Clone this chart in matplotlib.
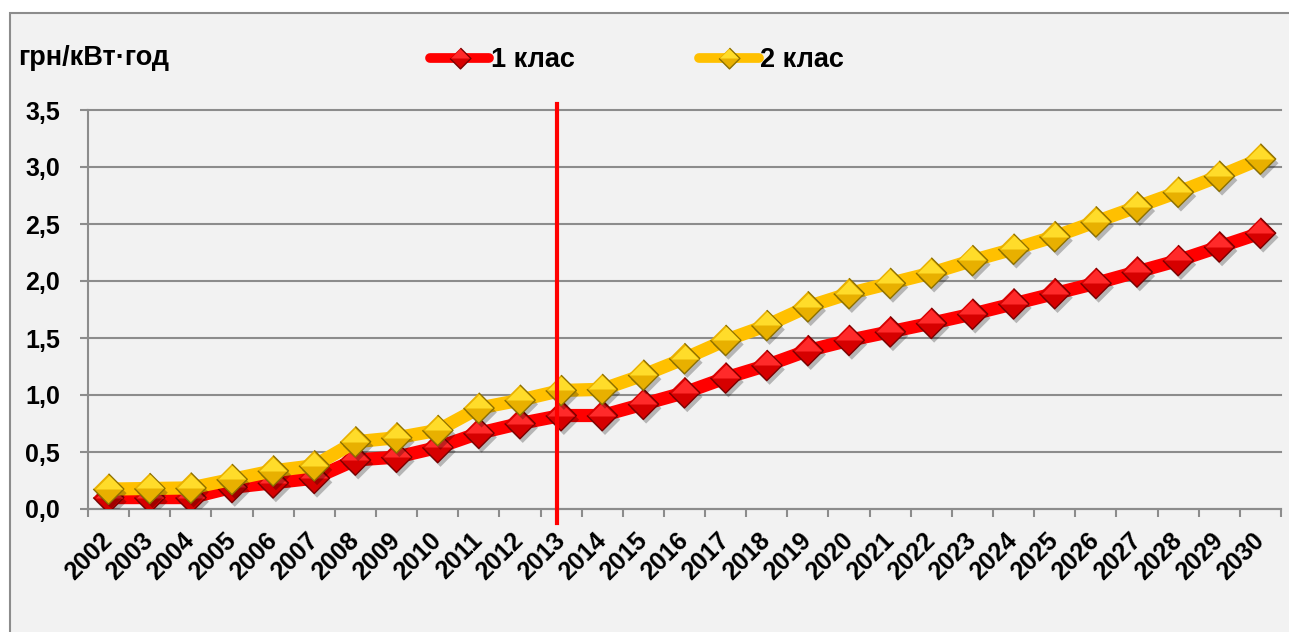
import numpy as np
import matplotlib
matplotlib.use("Agg")
import matplotlib.pyplot as plt
import matplotlib.patheffects as pe
import matplotlib.transforms as mtransforms
from matplotlib.lines import Line2D
from matplotlib.patches import Rectangle

# ---- data -------------------------------------------------------------
years = list(range(2002, 2031))
class1 = [0.10, 0.10, 0.10, 0.19, 0.23, 0.27, 0.43, 0.455, 0.54, 0.665,
          0.75, 0.82, 0.82, 0.92, 1.02, 1.15, 1.26, 1.39, 1.48, 1.555,
          1.63, 1.71, 1.80, 1.89, 1.98, 2.08, 2.18, 2.30, 2.42]
class2 = [0.175, 0.18, 0.185, 0.26, 0.335, 0.38, 0.59, 0.625, 0.69, 0.885,
          0.955, 1.04, 1.05, 1.175, 1.32, 1.48, 1.61, 1.775, 1.89, 1.98,
          2.07, 2.18, 2.28, 2.39, 2.52, 2.65, 2.78, 2.92, 3.07]
series_names = ["1 клас", "2 клас"]
y_ticks = [0.0, 0.5, 1.0, 1.5, 2.0, 2.5, 3.0, 3.5]
unit_label = "грн/кВт·год"
divider_year = 2013

# ---- style ------------------------------------------------------------
plt.rcParams['font.family'] = ['Liberation Sans', 'DejaVu Sans']
plt.rcParams['font.weight'] = 'bold'

GRID = '#8c8c8c'
styles = [
    dict(line='#ff0000', base='#d60000', top='#ff2a2a', edge='#7a0000'),
    dict(line='#ffc000', base='#e8b000', top='#ffdc2a', edge='#8c7000'),
]
DIAMOND = [(0, 1), (1, 0), (0, -1), (-1, 0)]
TOP_FACET = [(-1, 0), (0, 1), (1, 0)]

W, H = 1289, 632
fig = plt.figure(figsize=(W / 100, H / 100), dpi=100, facecolor='white')

# grey chart-area frame
fig.add_artist(Rectangle((10 / W, -0.05), 1.2, 0.05 + 1 - 13 / H,
                         transform=fig.transFigure, facecolor='#f2f2f2',
                         edgecolor=GRID, lw=1.5, zorder=0))

ax = fig.add_axes([88 / W, 1 - 509 / H, (1281 - 88) / W, (509 - 110) / H])
ax.patch.set_visible(False)

x = np.arange(len(years))
MS = 22

for vals, st in zip([class1, class2], styles):
    ax.plot(x, vals, color=st['line'], lw=9.5, solid_capstyle='round',
            solid_joinstyle='round', zorder=3)
    ax.plot(x, vals, ls='none', marker=DIAMOND, ms=MS, mfc=st['base'],
            mec=st['edge'], mew=1.0, zorder=3,
            path_effects=[pe.SimplePatchShadow(offset=(2, -3), shadow_rgbFace='black',
                                               alpha=0.25), pe.Normal()])
    ax.plot(x, vals, ls='none', marker=TOP_FACET, ms=MS * 0.9, mfc=st['top'],
            mec='none', mew=0, zorder=3)

# vertical divider line, placed just left of the divider year's point
trans = mtransforms.blended_transform_factory(ax.transData, ax.transAxes)
xd = years.index(divider_year) - 0.1
ax.plot([xd, xd], [-0.035, 1.015], transform=trans, color='#ff0000', lw=3,
        clip_on=False, zorder=5)

# ---- axes -------------------------------------------------------------
ax.set_xlim(-0.5, len(years) - 0.5)
ax.set_ylim(0, 3.5)
ax.set_yticks(y_ticks)
ax.set_yticklabels([f"{v:.1f}".replace('.', ',') for v in y_ticks])
ax.yaxis.grid(True, color=GRID, lw=1.5)
for gl in ax.yaxis.get_gridlines():
    gl.set_clip_on(False)
ax.set_axisbelow(True)

for s in ['top', 'right']:
    ax.spines[s].set_visible(False)
for s in ['left', 'bottom']:
    ax.spines[s].set_color(GRID)
    ax.spines[s].set_linewidth(1.5)

ax.tick_params(axis='y', length=6, width=1.5, color=GRID, pad=14, labelsize=18)
ax.set_xticks(x)
ax.set_xticklabels([str(y) for y in years], rotation=45, ha='right', va='center',
                   rotation_mode='anchor', fontsize=18)
ax.tick_params(axis='x', which='major', length=0, pad=20)
ax.set_xticks(np.arange(-0.5, len(years)), minor=True)
ax.tick_params(axis='x', which='minor', length=6, width=1.5, color=GRID)

fig.text(18 / W, 1 - 58 / H, unit_label, ha='left', va='center', fontsize=19.5,
         weight='bold')

# ---- legend -----------------------------------------------------------
handles = []
for st in styles:
    base = Line2D([], [], color=st['line'], lw=7, solid_capstyle='round',
                  marker=DIAMOND, ms=15, mfc=st['base'], mec=st['edge'], mew=1.0)
    top = Line2D([], [], ls='none', marker=TOP_FACET, ms=15 * 0.9,
                 mfc=st['top'], mec='none')
    handles.append((base, top))
fig.legend(handles, series_names, loc='center', bbox_to_anchor=(637 / W, 1 - 60 / H),
           ncol=2, frameon=False, fontsize=19.5, handlelength=2.2,
           handletextpad=0.05, columnspacing=4.6)

fig.savefig('out.png', dpi=100, facecolor='white')
